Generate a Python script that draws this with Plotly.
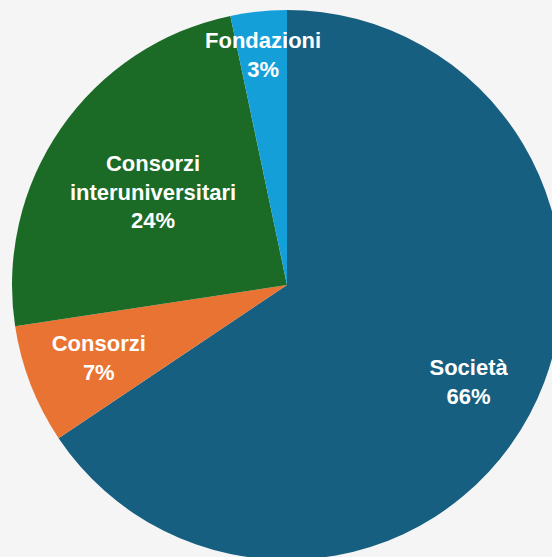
import plotly.graph_objects as go

labels = ["Società", "Consorzi", "Consorzi<br>interuniversitari", "Fondazioni"]
values = [65.6, 7.0, 24.1, 3.3]
colors = ["#175f80", "#e97333", "#1b6a26", "#159fd9"]

TPL = "%{label}<br>%{percent:.0%}"
font = dict(family="Liberation Sans, Arial, sans-serif", size=22, color="white", weight="bold")

fig = go.Figure()
# main pie: slices + the label of the large green slice
fig.add_trace(go.Pie(
    labels=labels, values=values, sort=False, direction="clockwise", rotation=0,
    marker=dict(colors=colors, line=dict(width=0)),
    texttemplate=["", "", TPL, ""],
    textposition="inside", insidetextorientation="horizontal",
    textfont=font, hoverinfo="label+percent", showlegend=False,
))


def label_layer(show_index, radius_px, hole):
    """Transparent copy of the pie used only to place some labels."""
    half = radius_px / 550.0
    dom = [0.5 - half, 0.5 + half]
    return go.Pie(
        labels=labels, values=values, sort=False, direction="clockwise", rotation=0,
        hole=hole, domain=dict(x=dom, y=dom),
        marker=dict(colors=["rgba(0,0,0,0)"] * len(values), line=dict(width=0)),
        texttemplate=[TPL if i in show_index else "" for i in range(len(values))],
        textposition="inside", insidetextorientation="horizontal",
        textfont=font, hoverinfo="skip", showlegend=False,
    )


fig.add_trace(label_layer([0], 275, 0.5))   # Società
fig.add_trace(label_layer([1], 246, 0.5))   # Consorzi
fig.add_trace(label_layer([3], 255, 0.5))   # Fondazioni

fig.update_layout(
    width=562, height=560,
    margin=dict(l=12, t=10, r=0, b=0, pad=0),
    paper_bgcolor="#f5f5f5",
    plot_bgcolor="#f5f5f5",
    uniformtext=dict(mode="show", minsize=22),
)

fig.write_html(
    "out.html",
    config={"displayModeBar": False},
    post_script="document.body.style.margin='0';document.body.style.overflow='hidden';document.documentElement.style.overflow='hidden';",
)
